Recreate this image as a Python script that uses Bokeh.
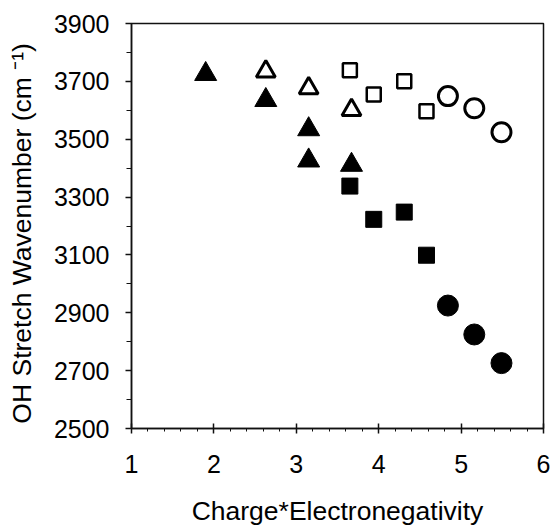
from bokeh.plotting import figure
from bokeh.models import Range1d, FixedTicker
from bokeh.embed import file_html
from bokeh.resources import INLINE

# --- data: OH stretch wavenumber vs. charge*electronegativity ---
tri_fill_x = [1.90, 2.63, 3.15, 3.15, 3.67]
tri_fill_y = [3725, 3635, 3534, 3426, 3411]

tri_open_x = [2.63, 3.15, 3.67]
tri_open_y = [3734, 3676, 3601]

sq_open_x = [3.65, 3.94, 4.31, 4.58]
sq_open_y = [3738, 3655, 3700, 3597]

sq_fill_x = [3.65, 3.94, 4.31, 4.58]
sq_fill_y = [3338, 3223, 3248, 3099]

circ_open_x = [4.84, 5.16, 5.49]
circ_open_y = [3649, 3607, 3524]

circ_fill_x = [4.84, 5.16, 5.49]
circ_fill_y = [2925, 2825, 2726]

x_ticks = [1, 2, 3, 4, 5, 6]
y_ticks = [2500, 2700, 2900, 3100, 3300, 3500, 3700, 3900]

X0, X1 = 1, 6
Y0, Y1 = 2500, 3900

FONT = "Liberation Sans"

p = figure(frame_width=412, frame_height=405,
           output_backend="svg", toolbar_location=None,
           x_range=Range1d(X0, X1), y_range=Range1d(Y0, Y1),
           min_border_left=131, min_border_right=9,
           min_border_top=23, min_border_bottom=6)
p.grid.visible = False
p.background_fill_color = "white"
p.border_fill_color = "white"
p.outline_line_color = "#111111"
p.outline_line_width = 1.5

xa = p.xaxis[0]
xa.ticker = FixedTicker(ticks=x_ticks,
                        minor_ticks=[1 + 0.2 * i for i in range(26)])
xa.major_tick_in = 5
xa.major_tick_out = 5
xa.minor_tick_in = 0
xa.minor_tick_out = 3
xa.major_label_standoff = 21
xa.axis_label = "Charge*Electronegativity"
xa.axis_label_standoff = 20

ya = p.yaxis[0]
ya.ticker = FixedTicker(ticks=y_ticks,
                        minor_ticks=list(range(2500, 3901, 100)))
ya.major_tick_in = 0
ya.major_tick_out = 6
ya.minor_tick_in = 0
ya.minor_tick_out = 5
ya.major_label_standoff = 16
ya.axis_label = "OH Stretch Wavenumber (cm   \u207b\u00b9)"
ya.axis_label_standoff = 14

for ax in (xa, ya):
    ax.axis_line_color = "#111111"
    ax.axis_line_width = 1.5
    ax.major_tick_line_color = "#111111"
    ax.minor_tick_line_color = "#111111"
    ax.major_tick_line_width = 1.5
    ax.minor_tick_line_width = 1
    ax.major_label_text_font = FONT
    ax.major_label_text_font_size = "25px"
    ax.major_label_text_color = "black"
    ax.axis_label_text_font = FONT
    ax.axis_label_text_font_size = "26.5px"
    ax.axis_label_text_font_style = "normal"
    ax.axis_label_text_color = "black"

# --- markers ---
p.scatter(tri_fill_x, tri_fill_y, marker="triangle", size=22,
          fill_color="black", line_color="black", line_width=1)
p.scatter(tri_open_x, tri_open_y, marker="triangle", size=19,
          fill_color="white", line_color="black", line_width=3)
p.scatter(sq_open_x, sq_open_y, marker="square", size=14,
          fill_color="white", line_color="black", line_width=2.5)
p.scatter(sq_fill_x, sq_fill_y, marker="square", size=16,
          fill_color="black", line_color="black", line_width=1)
p.scatter(circ_open_x, circ_open_y, marker="circle", size=19,
          fill_color="white", line_color="black", line_width=3)
p.scatter(circ_fill_x, circ_fill_y, marker="circle", size=21,
          fill_color="black", line_color="black", line_width=1)

open("out.html", "w").write(file_html(p, INLINE))
